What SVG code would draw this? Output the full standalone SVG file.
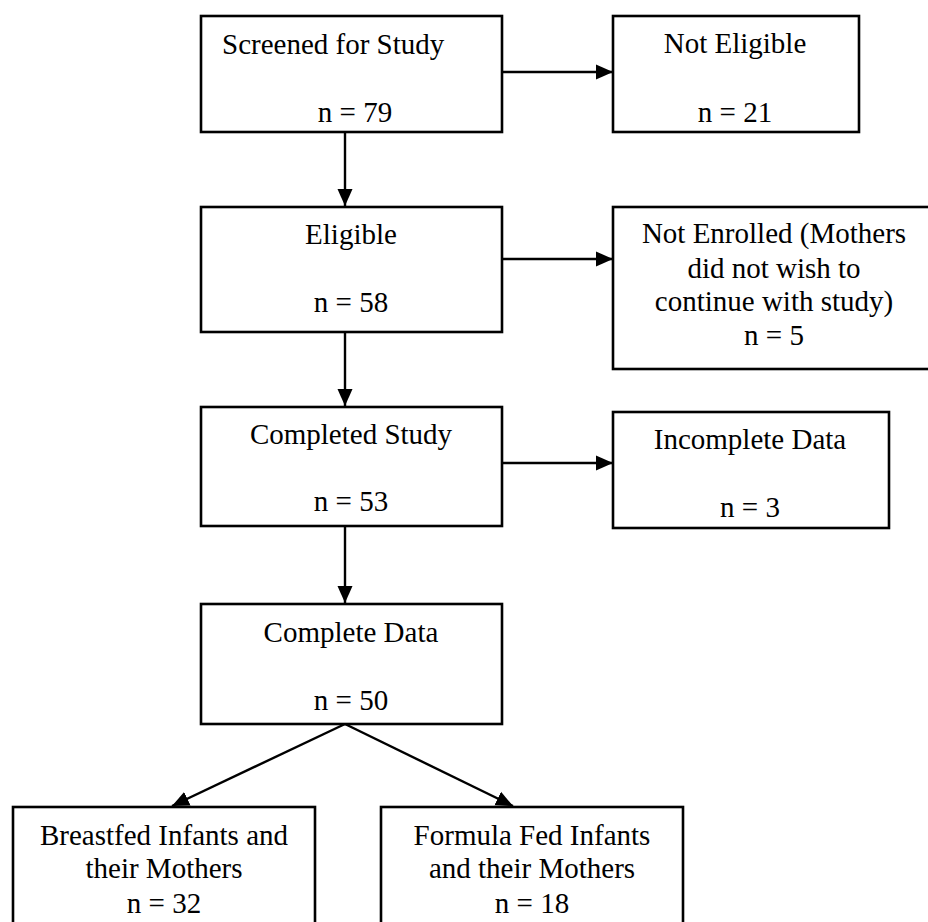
<svg xmlns="http://www.w3.org/2000/svg" width="928" height="922" viewBox="0 0 928 922">
<style>
rect.box { fill: #ffffff; stroke: #000000; stroke-width: 2.6; }
text { font-family: "Liberation Serif", "Times New Roman", serif; font-size: 29px; fill: #000000; text-anchor: middle; }
text.left { text-anchor: start; }
.conn line { stroke: #000000; stroke-width: 2.4; marker-end: url(#arrow); }
</style>
<defs>
<marker id="arrow" markerUnits="userSpaceOnUse" markerWidth="17" markerHeight="16" refX="17" refY="8" orient="auto">
<path d="M0,0.5 L17,8 L0,15.5 z" fill="#000000"/>
</marker>
</defs>
<rect width="928" height="922" fill="#ffffff"/>
<g id="connectors" class="conn">
<line x1="503" y1="72" x2="613" y2="72"/>
<line x1="345" y1="132" x2="345" y2="206"/>
<line x1="503" y1="259" x2="613" y2="259"/>
<line x1="345" y1="332" x2="345" y2="406"/>
<line x1="503" y1="463" x2="613" y2="463"/>
<line x1="345" y1="526" x2="345" y2="603"/>
<line x1="345" y1="724" x2="172" y2="806"/>
<line x1="345" y1="724" x2="513" y2="806"/>
</g>
<g id="screened">
<rect class="box" x="201" y="16" width="301" height="116"/>
<text class="left" x="222" y="54">Screened for Study</text>
<text x="355" y="122">n = 79</text>
</g>
<g id="not-eligible">
<rect class="box" x="613" y="16" width="246" height="116"/>
<text x="735" y="53">Not Eligible</text>
<text x="735" y="122">n = 21</text>
</g>
<g id="eligible">
<rect class="box" x="201" y="207" width="301" height="125"/>
<text x="351" y="244">Eligible</text>
<text x="351" y="312">n = 58</text>
</g>
<g id="not-enrolled">
<rect class="box" x="613" y="207" width="323" height="162"/>
<text x="774" y="243">Not Enrolled (Mothers</text>
<text x="774" y="278">did not wish to</text>
<text x="774" y="311">continue with study)</text>
<text x="774" y="345">n = 5</text>
</g>
<g id="completed-study">
<rect class="box" x="201" y="407" width="301" height="119"/>
<text x="351" y="444">Completed Study</text>
<text x="351" y="511">n = 53</text>
</g>
<g id="incomplete-data">
<rect class="box" x="613" y="412" width="276" height="116"/>
<text x="750" y="449">Incomplete Data</text>
<text x="750" y="517">n = 3</text>
</g>
<g id="complete-data">
<rect class="box" x="201" y="604" width="301" height="120"/>
<text x="351" y="642">Complete Data</text>
<text x="351" y="710">n = 50</text>
</g>
<g id="breastfed">
<rect class="box" x="13" y="807" width="302" height="130"/>
<text x="164" y="845">Breastfed Infants and</text>
<text x="164" y="878">their Mothers</text>
<text x="164" y="913">n = 32</text>
</g>
<g id="formula-fed">
<rect class="box" x="381" y="807" width="302" height="130"/>
<text x="532" y="845">Formula Fed Infants</text>
<text x="532" y="878">and their Mothers</text>
<text x="532" y="913">n = 18</text>
</g>
</svg>
